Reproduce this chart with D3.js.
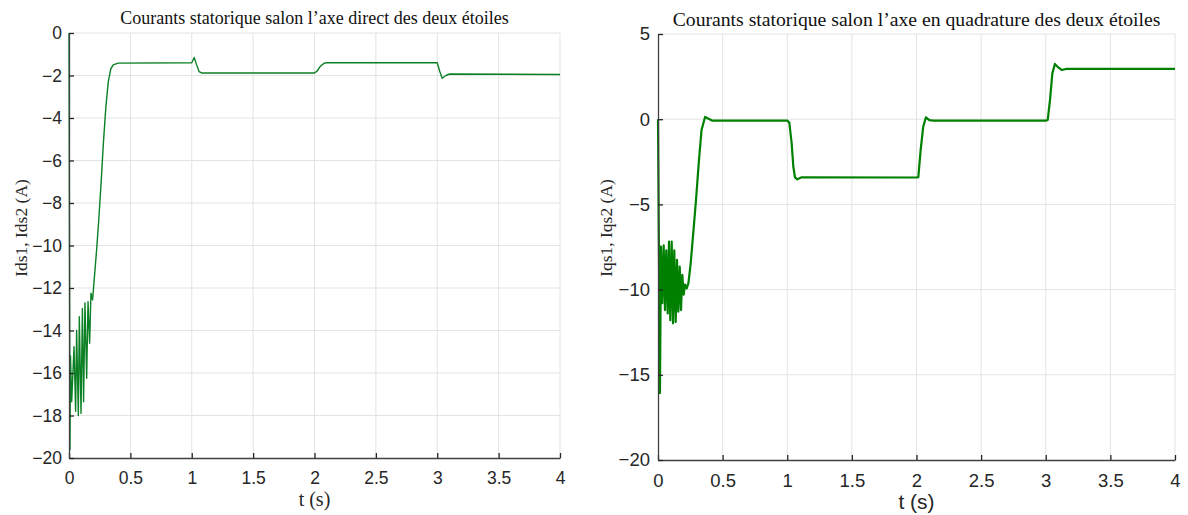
<!DOCTYPE html>
<html>
<head>
<meta charset="utf-8">
<script src="https://cdn.jsdelivr.net/npm/d3@7"></script>
<style>
  body { margin: 0; background: #fff; }
  svg { display: block; }
</style>
</head>
<body>
<div id="app"></div>
<script>
// time ticks shared by both panels
const timeTicks = [0, 0.5, 1, 1.5, 2, 2.5, 3, 3.5, 4];
const idTicks = [0, -2, -4, -6, -8, -10, -12, -14, -16, -18, -20];
const iqTicks = [5, 0, -5, -10, -15, -20];

// Ids1, Ids2 (A)
const idTime = [0, 0.008, 0.012, 0.022, 0.041, 0.054, 0.062, 0.076, 0.084, 0.098, 0.109, 0.119, 0.13, 0.144, 0.155, 0.168, 0.179, 0.192, 0.225,
  0.24, 0.26, 0.28, 0.30, 0.32, 0.34, 0.36, 0.40, 1.0, 1.02, 1.04, 1.06, 1.08, 2.0, 2.02, 2.05, 2.08, 2.1, 3.0, 3.02, 3.04, 3.07, 3.1, 4.0];
const idValue = [0, -19.6, -15.2, -17.35, -14.76, -17.8, -14.0, -18.0, -13.35, -17.9, -12.96, -17.35, -12.7, -16.25, -12.64, -14.6, -12.25, -12.56, -10.2,
  -9.0, -7.2, -5.2, -3.5, -2.3, -1.7, -1.5, -1.42, -1.4, -1.15, -1.5, -1.82, -1.88, -1.88, -1.8, -1.55, -1.42, -1.4, -1.4, -1.8, -2.13, -2.0, -1.93, -1.95];

// Iqs1, Iqs2 (A)
const iqTime = [0, 0.015, 0.023, 0.033, 0.044, 0.054, 0.064, 0.075, 0.085, 0.095, 0.106, 0.116, 0.126, 0.137, 0.147, 0.157, 0.168, 0.178, 0.188, 0.199, 0.209, 0.222,
  0.235, 0.253, 0.268, 0.275, 0.294, 0.317, 0.337, 0.364, 0.418, 1.0, 1.016, 1.034, 1.047, 1.06, 1.078, 1.112, 2.0, 2.014, 2.032, 2.052, 2.073, 2.099, 2.13,
  3.0, 3.015, 3.033, 3.051, 3.071, 3.097, 3.123, 3.16, 4.0];
const iqValue = [0, -16.07, -7.48, -10.8, -7.4, -11.2, -7.7, -11.4, -7.19, -11.8, -7.19, -11.98, -7.7, -11.9, -8.26, -11.3, -8.65, -11.2, -9.14, -10.3, -9.7, -9.93,
  -9.63, -8.46, -7.09, -6.5, -4.74, -2.4, -0.63, 0.13, -0.08, -0.08, -0.2, -1.41, -2.79, -3.41, -3.53, -3.41, -3.42, -3.4, -1.81, -0.44, 0.11, -0.05, -0.08,
  -0.08, -0.05, 1.13, 2.69, 3.24, 3.04, 2.89, 2.95, 2.95];

const W = 1188, H = 515;
const svg = d3.select("#app").append("svg").attr("width", W).attr("height", H);
const serif = "'Liberation Serif', 'Times New Roman', serif";
const sans = "'Liberation Sans', Arial, sans-serif";

function drawPanel(p) {
  const x = d3.scaleLinear().domain([0, 4]).range([p.left, p.right]);
  const y = d3.scaleLinear().domain(p.yDomain).range([p.bottom, p.top]);
  const g = svg.append("g");

  // grid
  g.selectAll(".vgrid").data(timeTicks.filter(t => t > 0)).join("line")
    .attr("x1", d => x(d)).attr("x2", d => x(d))
    .attr("y1", p.top).attr("y2", p.bottom)
    .attr("stroke", "#e3e3e3").attr("stroke-width", 1);
  g.selectAll(".hgrid").data(p.yTicks.filter(v => v !== p.yDomain[0])).join("line")
    .attr("x1", p.left).attr("x2", p.right)
    .attr("y1", d => y(d)).attr("y2", d => y(d))
    .attr("stroke", "#e3e3e3").attr("stroke-width", 1);

  // curve
  const pts = p.time.map((t, i) => [t, p.value[i]]);
  g.append("path").datum(pts)
    .attr("fill", "none")
    .attr("stroke", p.color)
    .attr("stroke-width", p.lineWidth)
    .attr("stroke-linejoin", "round")
    .attr("d", d3.line().x(d => x(d[0])).y(d => y(d[1])));

  // axes with inner ticks
  const xAxis = d3.axisBottom(x).tickValues(timeTicks).tickSizeInner(-5).tickSizeOuter(0)
    .tickPadding(11).tickFormat(d3.format("~g"));
  const yAxis = d3.axisLeft(y).tickValues(p.yTicks).tickSizeInner(-5).tickSizeOuter(0)
    .tickPadding(p.yPad).tickFormat(d3.format("~g"));

  const gx = g.append("g").attr("transform", `translate(0,${p.bottom})`).call(xAxis);
  const gy = g.append("g").attr("transform", `translate(${p.left},0)`).call(yAxis);
  [gx, gy].forEach(a => {
    a.select(".domain").attr("stroke", "#404040").attr("stroke-width", 1.3);
    a.selectAll(".tick line").attr("stroke", "#262626").attr("stroke-width", 1.3);
    a.selectAll(".tick text").attr("fill", "#262626")
      .style("font-family", sans).style("font-size", p.tickSize);
  });
  gx.selectAll(".tick text").attr("dy", "0.85em");

  // title
  g.append("text").attr("x", (p.left + p.right) / 2).attr("y", p.titleY)
    .attr("text-anchor", "middle")
    .style("font-family", serif).style("font-size", p.titleSize)
    .attr("fill", "#111").text(p.title);

  // x label
  g.append("text").attr("x", (p.left + p.right) / 2).attr("y", p.xLabelY)
    .attr("text-anchor", "middle")
    .style("font-family", p.xLabelFont).style("font-size", p.xLabelSize)
    .attr("fill", "#262626").text("t (s)");

  // y label
  g.append("text")
    .attr("transform", `translate(${p.yLabelX},228) rotate(-90)`)
    .attr("text-anchor", "middle")
    .style("font-family", serif).style("font-size", "17.5px")
    .attr("fill", "#262626").text(p.yLabel);
}

drawPanel({
  left: 69, right: 560, top: 33, bottom: 458,
  yDomain: [-20, 0], yTicks: idTicks, yPad: 7,
  time: idTime, value: idValue,
  color: "#0b8024", lineWidth: 1.4,
  title: "Courants statorique salon l\u2019axe direct des deux \u00e9toiles",
  titleY: 24, titleSize: "18px", tickSize: "17.5px",
  yLabel: "Ids1, Ids2 (A)", yLabelX: 27,
  xLabelY: 506, xLabelFont: serif, xLabelSize: "20px"
});

drawPanel({
  left: 658, right: 1175, top: 34, bottom: 460,
  yDomain: [-20, 5], yTicks: iqTicks, yPad: 8,
  time: iqTime, value: iqValue,
  color: "#008000", lineWidth: 2.2,
  title: "Courants statorique salon l\u2019axe en quadrature des deux \u00e9toiles",
  titleY: 26, titleSize: "19.7px", tickSize: "18.5px",
  yLabel: "Iqs1, Iqs2 (A)", yLabelX: 612,
  xLabelY: 509, xLabelFont: sans, xLabelSize: "21px"
});
</script>
</body>
</html>
